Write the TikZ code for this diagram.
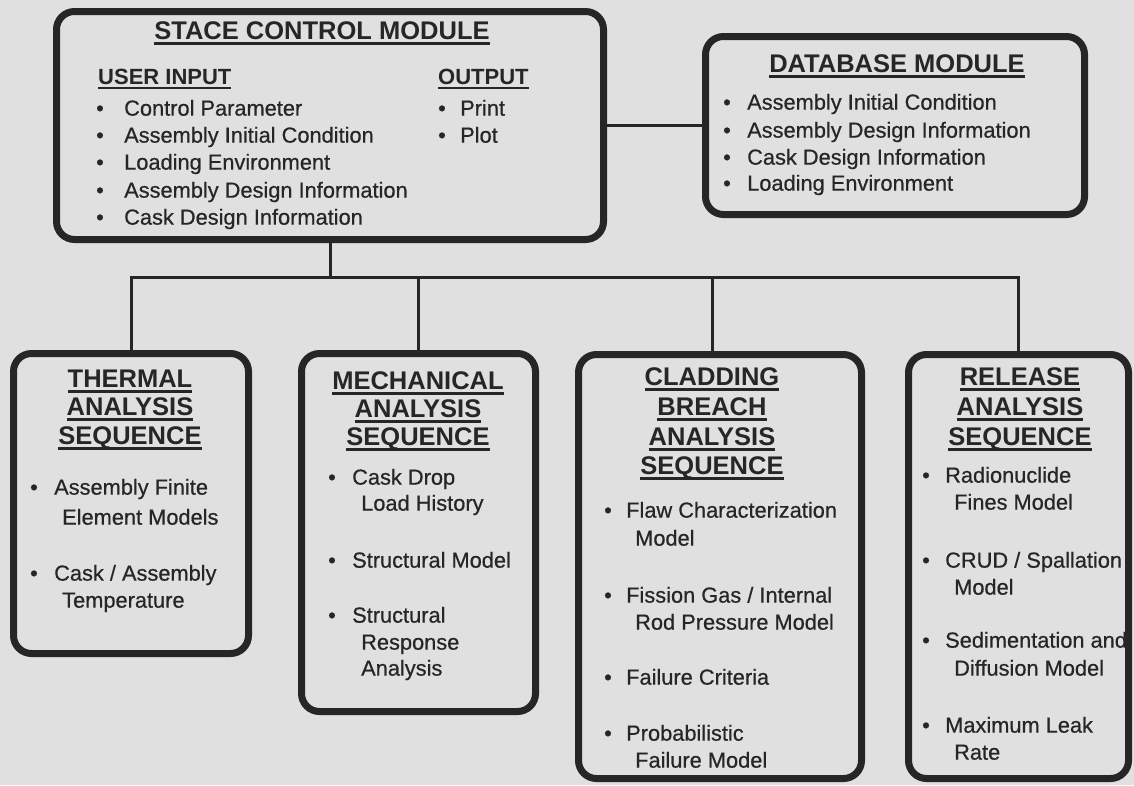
\documentclass[tikz,border=0pt]{standalone}
\usepackage{fontspec}
\setmainfont{Liberation Sans}
\newfontface\medface{Liberation Sans}[FakeBold=0.6]
\definecolor{ink}{RGB}{38,38,38}
\definecolor{paper}{RGB}{224,224,224}
\newcommand\bodyf{\medface\fontsize{21.8}{26}\selectfont}
\newcommand\ttlf{\fontsize{25.5}{30}\selectfont\bfseries}
\newcommand\subf{\fontsize{22}{26}\selectfont\bfseries}
\newcommand\ulin[1]{\setbox0\hbox{#1}\rlap{\rule[-0.2em]{\wd0}{0.1em}}\box0}
\tikzset{
  box/.style={draw=ink, line width=7pt, rounded corners=18pt, fill=paper, inner sep=0pt},
  conn/.style={draw=ink, line width=3pt},
  body/.style={font=\bodyf, text=ink, inner sep=0pt, anchor=mid west},
  bul/.style={font=\bodyf, text=ink, inner sep=0pt, anchor=mid},
  ttl/.style={font=\ttlf, text=ink, inner sep=0pt, anchor=mid},
  sub/.style={font=\subf, text=ink, inner sep=0pt, anchor=mid west},
}
\begin{document}
\begin{tikzpicture}[x=1pt,y=-1pt]
\useasboundingbox[fill=paper] (0,0) rectangle (1134,785);
% boxes
\node[box, minimum width=547pt, minimum height=228pt] (stace) at (330,125.5) {};
\node[box, minimum width=379pt, minimum height=178pt] (db) at (895,125.5) {};
\node[box, minimum width=235pt, minimum height=300pt] (thermal) at (131,503.5) {};
\node[box, minimum width=234pt, minimum height=358pt] (mech) at (418.5,532.5) {};
\node[box, minimum width=283pt, minimum height=424pt] (clad) at (720,566.5) {};
\node[box, minimum width=220pt, minimum height=424pt] (rel) at (1018.5,566.5) {};
% connectors
\coordinate (bus) at (330,277);
\draw[conn] (stace.east) -- (db.west);
\draw[conn] (stace.south) -- (bus);
\draw[conn] (thermal.north) |- (bus) -| (rel.north);
\draw[conn] (mech.north) -- (mech.north |- bus);
\draw[conn] ([xshift=-8pt]clad.north) -- ([xshift=-8pt]clad.north |- bus);
% STACE control module
\node[ttl] (st) at (322,37) {\ulin{STACE CONTROL MODULE}};
\node[sub] (ui) at (98,82) {\ulin{USER INPUT}};
\node[sub] (op) at (438,82) {\ulin{OUTPUT}};
\foreach \y/\t [count=\i] in {113/Control Parameter,140/Assembly Initial Condition,167/Loading Environment,195/Assembly Design Information,222/Cask Design Information}{
  \node[bul] (sb\i) at (100,\y) {\textbullet};
  \node[body] (s\i) at (124,\y) {\t};
}
\node[bul] (ob1) at (442,113) {\textbullet};
\node[body] (o1) at (460,113) {Print};
\node[bul] (ob2) at (442,140) {\textbullet};
\node[body] (o2) at (460,140) {Plot};
% database
\node[ttl] (dt) at (897,70) {\ulin{DATABASE MODULE}};
\foreach \y/\t [count=\i] in {107/Assembly Initial Condition,135/Assembly Design Information,162/Cask Design Information,188/Loading Environment}{
  \node[bul] (db\i) at (727,\y) {\textbullet};
  \node[body] (d\i) at (747,\y) {\t};
}
% thermal
\node[ttl] (tt1) at (130,385) {\ulin{THERMAL}};
\node[ttl] (tt2) at (130,413) {\ulin{ANALYSIS}};
\node[ttl] (tt3) at (130,442) {\ulin{SEQUENCE}};
\node[bul] (tb1) at (34,492) {\textbullet};
\node[body] (ta1) at (54,492) {Assembly Finite};
\node[body] (ta2) at (62,522) {Element Models};
\node[bul] (tb2) at (34,578) {\textbullet};
\node[body] (ta3) at (54,578) {Cask / Assembly};
\node[body] (ta4) at (62,605) {Temperature};
% mechanical
\node[ttl] (mt1) at (418,387) {\ulin{MECHANICAL}};
\node[ttl] (mt2) at (418,415) {\ulin{ANALYSIS}};
\node[ttl] (mt3) at (418,443) {\ulin{SEQUENCE}};
\node[bul] (mb1) at (332,482) {\textbullet};
\node[body] (ma1) at (352,482) {Cask Drop};
\node[body] (ma2) at (361,508) {Load History};
\node[bul] (mb2) at (332,565) {\textbullet};
\node[body] (ma3) at (352,565) {Structural Model};
\node[bul] (mb3) at (332,620) {\textbullet};
\node[body] (ma4) at (352,620) {Structural};
\node[body] (ma5) at (361,647) {Response};
\node[body] (ma6) at (361,673) {Analysis};
% cladding
\node[ttl] (ct1) at (712,383) {\ulin{CLADDING}};
\node[ttl] (ct2) at (712,413) {\ulin{BREACH}};
\node[ttl] (ct3) at (712,443) {\ulin{ANALYSIS}};
\node[ttl] (ct4) at (712,472) {\ulin{SEQUENCE}};
\node[bul] (cb1) at (608,515) {\textbullet};
\node[body] (ca1) at (626,515) {Flaw Characterization};
\node[body] (ca2) at (635,543) {Model};
\node[bul] (cb2) at (608,600) {\textbullet};
\node[body] (ca3) at (626,600) {Fission Gas / Internal};
\node[body] (ca4) at (635,627) {Rod Pressure Model};
\node[bul] (cb3) at (608,682) {\textbullet};
\node[body] (ca5) at (626,682) {Failure Criteria};
\node[bul] (cb4) at (608,738) {\textbullet};
\node[body] (ca6) at (626,738) {Probabilistic};
\node[body] (ca7) at (635,765) {Failure Model};
% release
\node[ttl] (rt1) at (1020,383) {\ulin{RELEASE}};
\node[ttl] (rt2) at (1020,413) {\ulin{ANALYSIS}};
\node[ttl] (rt3) at (1020,443) {\ulin{SEQUENCE}};
\node[bul] (rb1) at (926,480) {\textbullet};
\node[body] (ra1) at (945,480) {Radionuclide};
\node[body] (ra2) at (954,507) {Fines Model};
\node[bul] (rb2) at (926,565) {\textbullet};
\node[body] (ra3) at (945,565) {CRUD / Spallation};
\node[body] (ra4) at (954,592) {Model};
\node[bul] (rb3) at (926,645) {\textbullet};
\node[body] (ra5) at (945,645) {Sedimentation and};
\node[body] (ra6) at (954,673) {Diffusion Model};
\node[bul] (rb4) at (926,730) {\textbullet};
\node[body] (ra7) at (945,730) {Maximum Leak};
\node[body] (ra8) at (954,757) {Rate};
\end{tikzpicture}
\end{document}
